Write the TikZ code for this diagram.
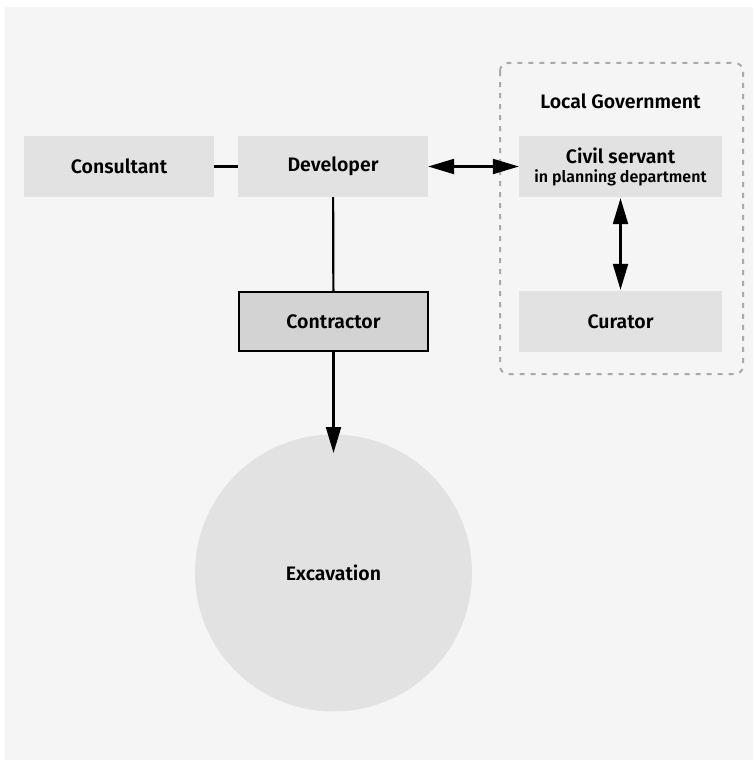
\documentclass[tikz,border=0pt]{standalone}
\usepackage{fontspec}
\setmainfont{Fira Sans}[BoldFont={* SemiBold}]
\usetikzlibrary{arrows.meta,calc}
\definecolor{bgc}{HTML}{F5F5F5}
\definecolor{boxc}{HTML}{E2E2E2}
\definecolor{contc}{HTML}{D3D3D3}
\definecolor{dashc}{HTML}{AAAAAA}
\tikzset{
  lbl/.style={font=\bfseries\fontsize{19.5}{22}\selectfont},
  plainbox/.style={rectangle, fill=boxc, minimum width=190pt, minimum height=61pt, inner sep=0pt, lbl, align=center},
  contbox/.style={plainbox, fill=contc, draw=black, line width=2pt, minimum width=189pt, minimum height=59pt},
  conn/.style={line width=2.2pt, black},
  bigtip/.style={-{Triangle[length=26pt,width=15pt]}},
  dbltip/.style={{Triangle[length=26pt,width=15pt]}-{Triangle[length=26pt,width=15pt]}},
}
\begin{document}
\begin{tikzpicture}[x=1pt,y=-1pt]
\useasboundingbox (0,0) rectangle (753,760);
\fill[bgc] (5,7) rectangle (753,760);
\draw[dashc, line width=2pt, dash pattern=on 5pt off 6pt, rounded corners=8pt] (500,63) rectangle (743,374);
\node[lbl] (lg) at (620.5,101) {Local Government};
\node[plainbox] (cons) at (119,166.5) {Consultant};
\node[plainbox] (dev) at (333,166.5) {Developer};
\node[plainbox, minimum width=203pt] (civ) at (620.5,166.5) {Civil servant\\[-3pt]{\fontsize{16}{18}\selectfont in planning department}};
\node[plainbox, minimum width=203pt] (cur) at (620.5,321.5) {Curator};
\node[contbox] (con) at (333.5,321.5) {Contractor};
\node[circle, fill=boxc, minimum size=277pt, inner sep=0pt, lbl] (exc) at (333.5,573) {Excavation};
\coordinate (exctip) at (333.5,453);
\draw[conn] (cons) -- (dev);
\draw[conn] (dev) -- (con);
\draw[conn, dbltip] (dev) -- (civ);
\draw[conn, dbltip] ($(civ.south)+(0,1)$) -- ($(cur.north)+(0,-1)$);
\draw[conn, bigtip] (con) -- (exctip);
\end{tikzpicture}
\end{document}
